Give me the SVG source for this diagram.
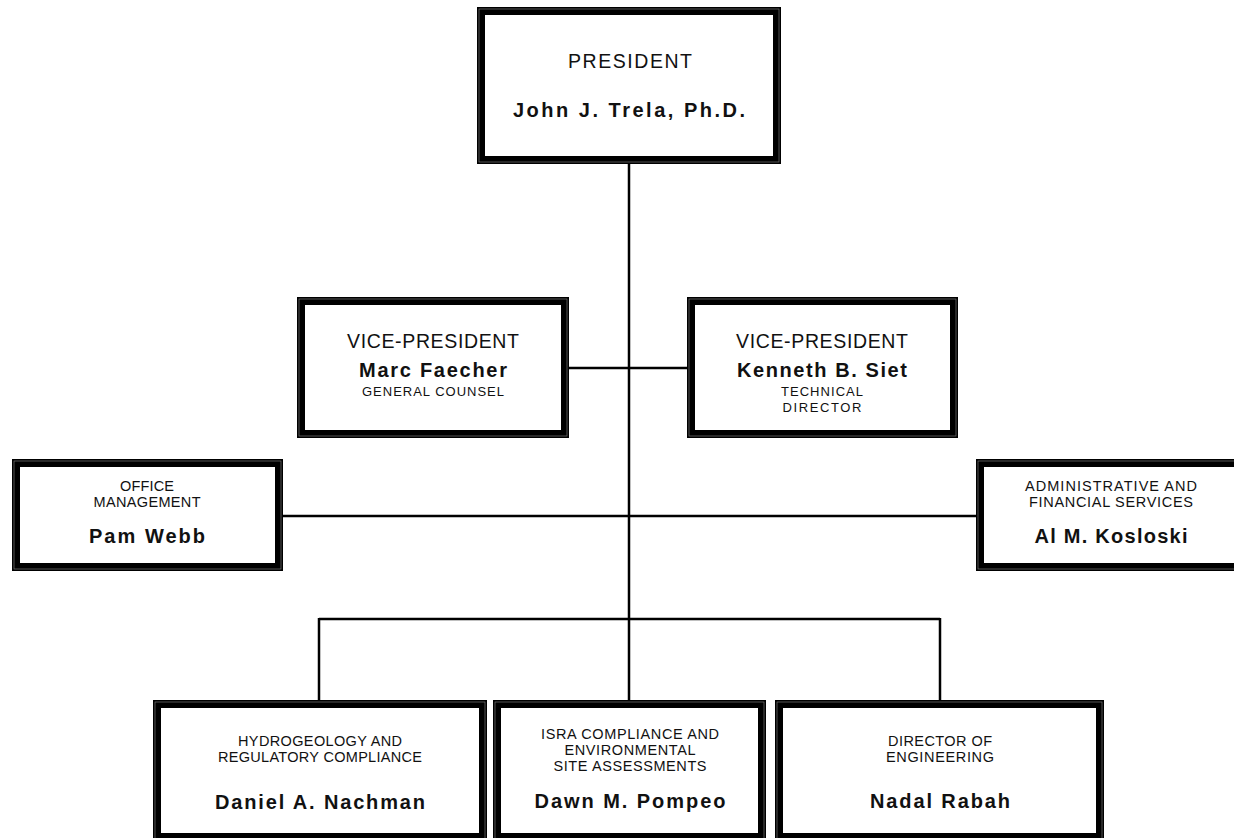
<svg xmlns="http://www.w3.org/2000/svg" width="1234" height="838" viewBox="0 0 1234 838">
<style>
.box{fill:#fff;stroke:#000;stroke-width:8}
.inner{fill:none;stroke:#777;stroke-width:0.7}
.ln{stroke:#000;stroke-width:2.5;fill:none}
text{font-family:"Liberation Sans",Arial,sans-serif;fill:#111;text-anchor:middle}
.t{font-size:19.5px}
.b{font-size:20px;font-weight:bold}
.s{font-size:14.5px}
.xs{font-size:13px}
</style>
<rect width="1234" height="838" fill="#fff"/>
<g id="connectors">
<line class="ln" x1="629" y1="160" x2="629" y2="704"/>
<line class="ln" x1="565" y1="368" x2="691" y2="368"/>
<line class="ln" x1="279" y1="516" x2="980" y2="516"/>
<line class="ln" x1="319" y1="619" x2="940" y2="619"/>
<line class="ln" x1="319" y1="618" x2="319" y2="704"/>
<line class="ln" x1="940" y1="618" x2="940" y2="704"/>
</g>
<g id="president">
<rect class="box" x="481" y="11" width="296" height="149"/>
<rect class="inner" x="479" y="9" width="300" height="153"/>
<text class="t" x="630" y="68" font-size="20" textLength="124" lengthAdjust="spacing">PRESIDENT</text>
<text class="b" x="629" y="117" font-size="21" textLength="232" lengthAdjust="spacing">John J. Trela, Ph.D.</text>
</g>
<g id="vp-left">
<rect class="box" x="301" y="301" width="264" height="133"/>
<rect class="inner" x="299" y="299" width="268" height="137"/>
<text class="t" x="433" y="348" textLength="172" lengthAdjust="spacing">VICE-PRESIDENT</text>
<text class="b" x="433" y="377" textLength="148" lengthAdjust="spacing">Marc Faecher</text>
<text class="xs" x="433" y="396" textLength="142" lengthAdjust="spacing">GENERAL COUNSEL</text>
</g>
<g id="vp-right">
<rect class="box" x="691" y="301" width="263" height="133"/>
<rect class="inner" x="689" y="299" width="267" height="137"/>
<text class="t" x="822" y="348" textLength="172" lengthAdjust="spacing">VICE-PRESIDENT</text>
<text class="b" x="822" y="377" textLength="170" lengthAdjust="spacing">Kenneth B. Siet</text>
<text class="xs" x="822" y="396" textLength="82" lengthAdjust="spacing">TECHNICAL</text>
<text class="xs" x="822" y="412" textLength="79" lengthAdjust="spacing">DIRECTOR</text>
</g>
<g id="office-management">
<rect class="box" x="16" y="463" width="263" height="104"/>
<rect class="inner" x="14" y="461" width="267" height="108"/>
<text class="s" x="147" y="491" textLength="54" lengthAdjust="spacing">OFFICE</text>
<text class="s" x="147" y="507" textLength="107" lengthAdjust="spacing">MANAGEMENT</text>
<text class="b" x="147" y="543" textLength="116" lengthAdjust="spacing">Pam Webb</text>
</g>
<g id="admin-financial">
<rect class="box" x="980" y="463" width="262" height="104"/>
<rect class="inner" x="978" y="461" width="266" height="108"/>
<text class="s" x="1111" y="491" textLength="172" lengthAdjust="spacing">ADMINISTRATIVE AND</text>
<text class="s" x="1111" y="507" textLength="164" lengthAdjust="spacing">FINANCIAL SERVICES</text>
<text class="b" x="1111" y="543" textLength="153" lengthAdjust="spacing">Al M. Kosloski</text>
</g>
<g id="hydrogeology">
<rect class="box" x="157" y="704" width="326" height="133"/>
<rect class="inner" x="155" y="702" width="330" height="137"/>
<text class="s" x="320" y="746" textLength="164" lengthAdjust="spacing">HYDROGEOLOGY AND</text>
<text class="s" x="320" y="762" textLength="204" lengthAdjust="spacing">REGULATORY COMPLIANCE</text>
<text class="b" x="320" y="809" textLength="210" lengthAdjust="spacing">Daniel A. Nachman</text>
</g>
<g id="isra">
<rect class="box" x="497" y="704" width="265" height="133"/>
<rect class="inner" x="495" y="702" width="269" height="137"/>
<text class="s" x="630" y="739" textLength="178" lengthAdjust="spacing">ISRA COMPLIANCE AND</text>
<text class="s" x="630" y="755" textLength="131" lengthAdjust="spacing">ENVIRONMENTAL</text>
<text class="s" x="630" y="771" textLength="153" lengthAdjust="spacing">SITE ASSESSMENTS</text>
<text class="b" x="630" y="808" textLength="191" lengthAdjust="spacing">Dawn M. Pompeo</text>
</g>
<g id="engineering">
<rect class="box" x="779" y="704" width="321" height="133"/>
<rect class="inner" x="777" y="702" width="325" height="137"/>
<text class="s" x="940" y="746" textLength="104" lengthAdjust="spacing">DIRECTOR OF</text>
<text class="s" x="940" y="762" textLength="108" lengthAdjust="spacing">ENGINEERING</text>
<text class="b" x="940" y="808" textLength="140" lengthAdjust="spacing">Nadal Rabah</text>
</g>
</svg>
